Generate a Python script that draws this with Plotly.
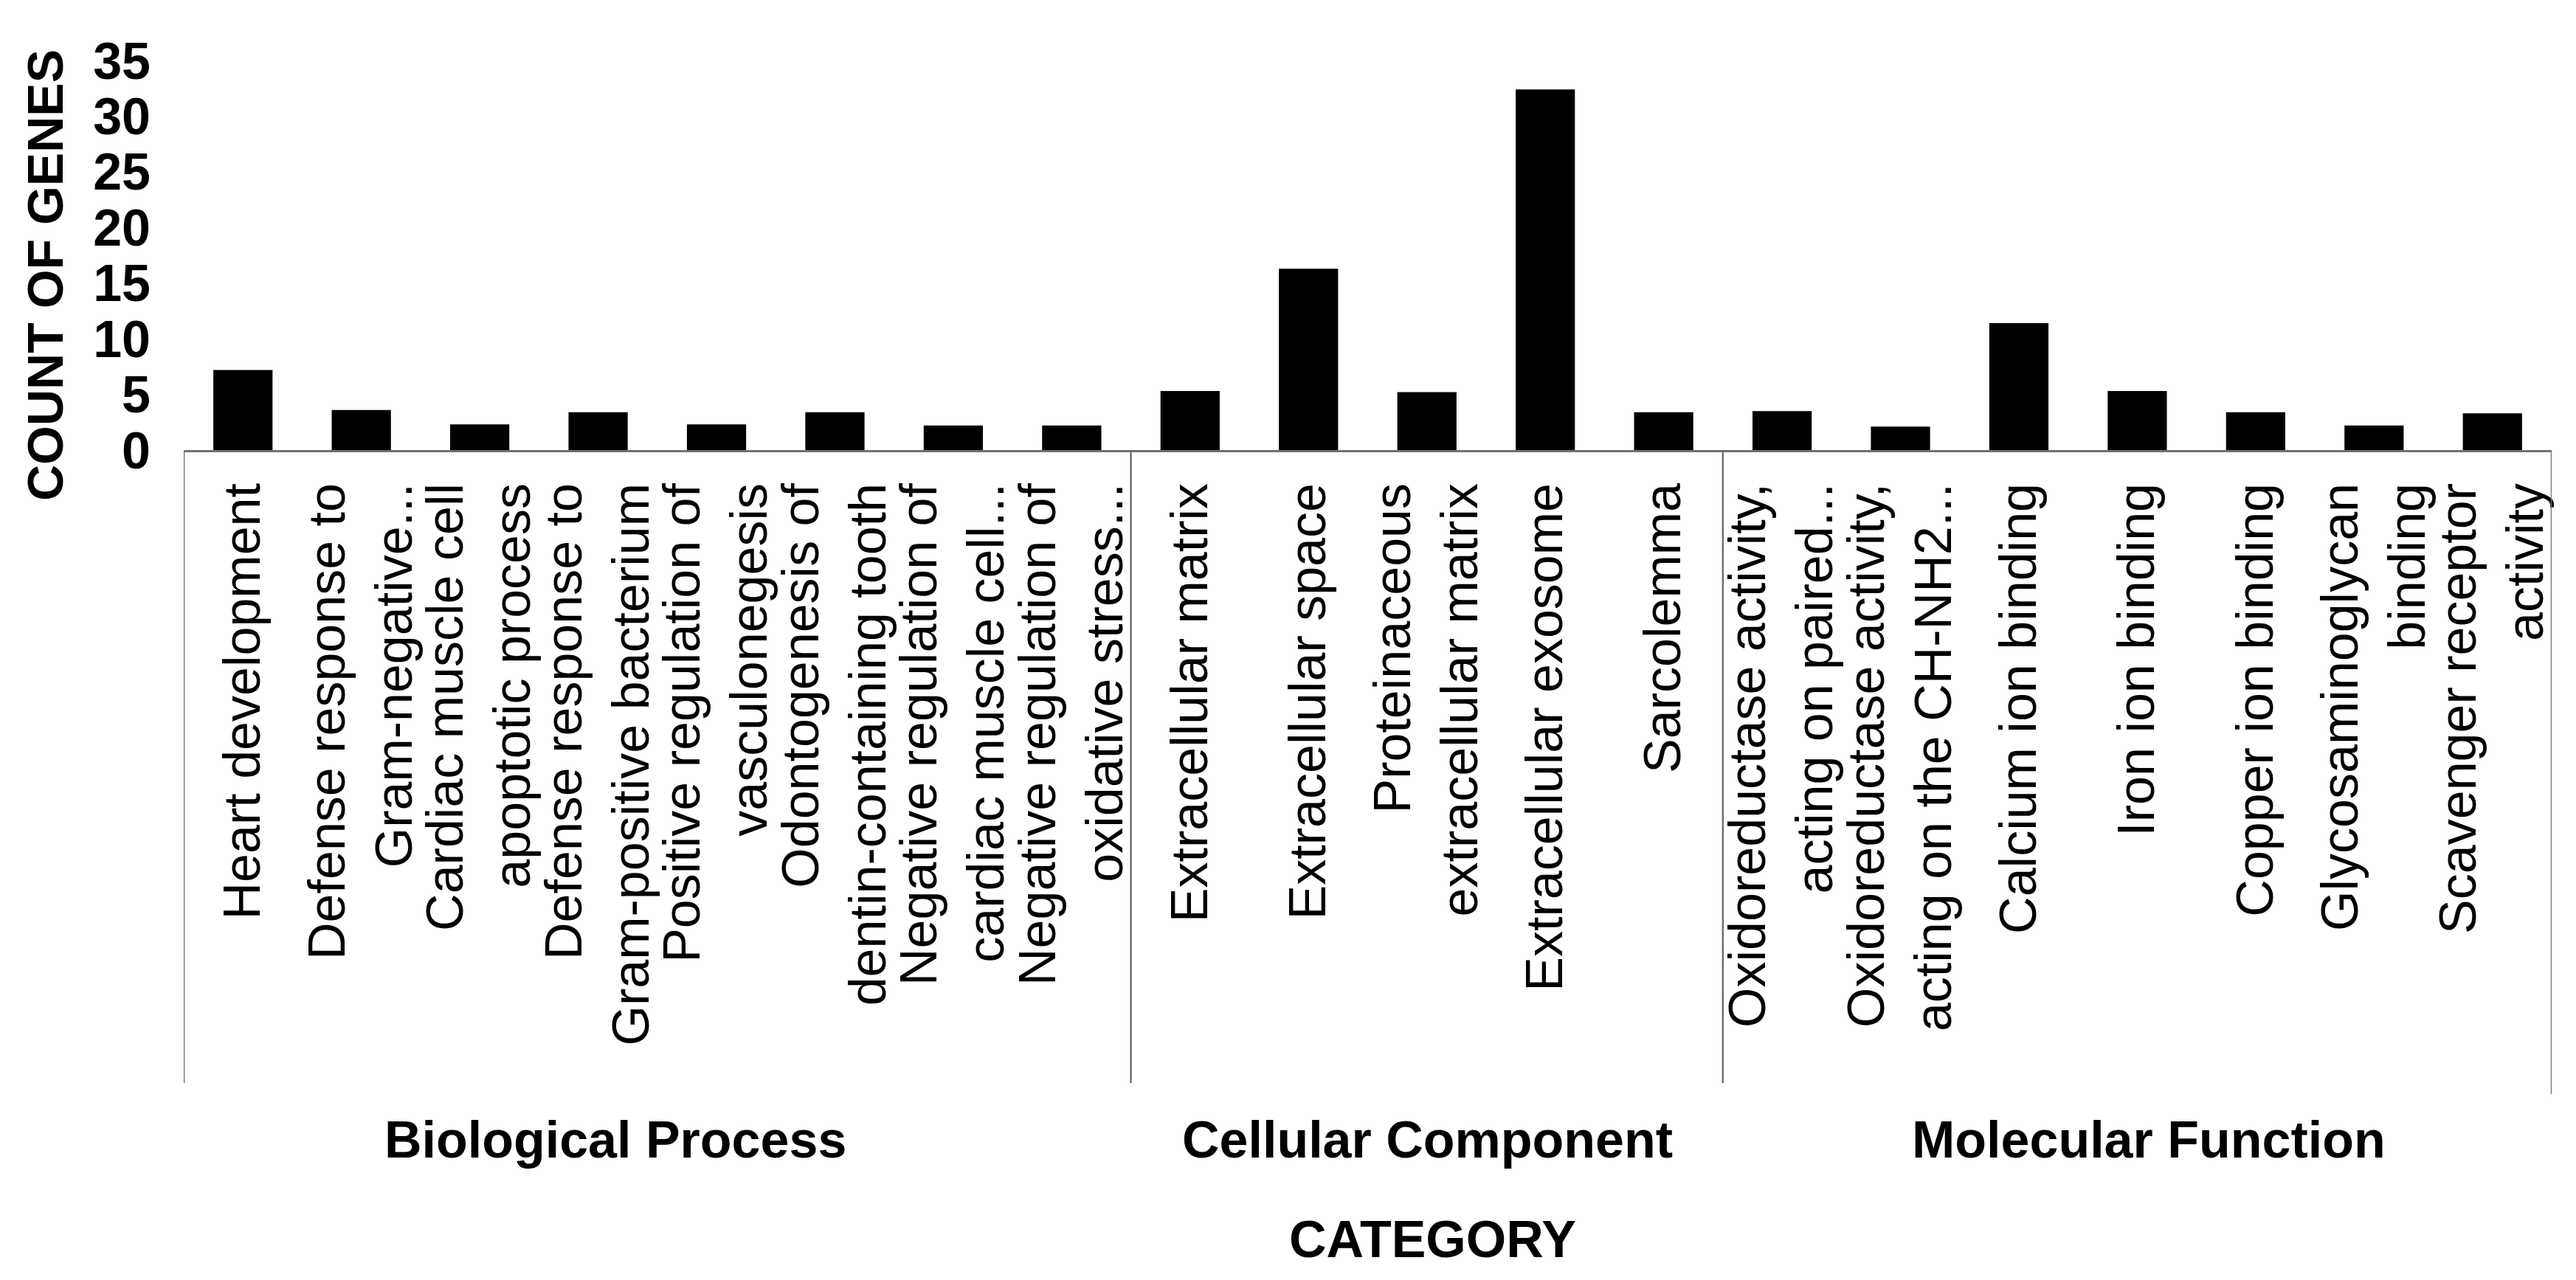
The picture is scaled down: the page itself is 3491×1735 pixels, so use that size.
import plotly.graph_objects as go

# ---- data ----
bp_terms = [
    "Heart development",
    "Defense response to<br>Gram-negative...",
    "Cardiac muscle cell<br>apoptotic process",
    "Defense response to<br>Gram-positive bacterium",
    "Positive regulation of<br>vasculonegesis",
    "Odontogenesis of<br>dentin-containing tooth",
    "Negative regulation of<br>cardiac muscle cell...",
    "Negative regulation of<br>oxidative stress...",
]
bp_counts = [7.2, 3.6, 2.3, 3.4, 2.3, 3.4, 2.2, 2.2]

cc_terms = [
    "Extracellular matrix",
    "Extracellular space",
    "Proteinaceous<br>extracellular matrix",
    "Extracellular exosome",
    "Sarcolemma",
]
cc_counts = [5.3, 16.3, 5.2, 32.4, 3.4]

mf_terms = [
    "Oxidoreductase activity,<br>acting on paired...",
    "Oxidoreductase activity,<br>acting on the CH-NH2...",
    "Calcium ion binding",
    "Iron ion binding",
    "Copper ion binding",
    "Glycosaminoglycan<br>binding",
    "Scavenger receptor<br>activity",
]
mf_counts = [3.5, 2.1, 11.4, 5.3, 3.4, 2.2, 3.3]

group_names = ["Biological Process", "Cellular Component", "Molecular Function"]
y_ticks = [0, 5, 10, 15, 20, 25, 30, 35]

# ---- figure ----
W, H = 3491, 1735
ML, MR, MT, MB = 241, 41, 59, 1133
PW, PH = W - ML - MR, H - MT - MB
FONT = "Liberation Sans, Arial, sans-serif"

def px_x(px):
    return (px - ML) / PW

def px_y(py):
    return (H - MB - py) / PH

terms = bp_terms + cc_terms + mf_terms
counts = bp_counts + cc_counts + mf_counts

fig = go.Figure(go.Bar(x=terms, y=counts, marker=dict(color="black", line=dict(width=0))))

# group separators (at category boundaries)
bounds = [-0.5, len(bp_terms) - 0.5, len(bp_terms) + len(cc_terms) - 0.5, len(terms) - 0.5]
shapes = []
for i, b in enumerate(bounds):
    shapes.append(dict(type="line", xref="x", yref="paper", x0=b, x1=b,
                       y0=0, y1=px_y(1475 if i == len(bounds) - 1 else 1460),
                       line=dict(color="#707070", width=2.5)))

annotations = []
for name, xp in zip(group_names, [826, 1926, 2904]):
    annotations.append(dict(text="<b>%s</b>" % name, xref="paper", yref="paper",
                            x=px_x(xp), y=px_y(1537), showarrow=False,
                            xanchor="center", yanchor="middle",
                            font=dict(family=FONT, size=70, color="black")))
annotations.append(dict(text="<b>CATEGORY</b>", xref="paper", yref="paper",
                        x=px_x(1934), y=px_y(1672), showarrow=False,
                        xanchor="center", yanchor="middle",
                        font=dict(family=FONT, size=70, color="black")))
annotations.append(dict(text="<b>COUNT OF GENES</b>", xref="paper", yref="paper",
                        x=px_x(53), y=px_y(365), showarrow=False, textangle=-90,
                        xanchor="center", yanchor="middle",
                        font=dict(family=FONT, size=68, color="black")))

fig.update_layout(
    width=W, height=H,
    margin=dict(l=ML, r=MR, t=MT, b=MB, autoexpand=False),
    paper_bgcolor="white", plot_bgcolor="white",
    bargap=0.5, showlegend=False,
    shapes=shapes, annotations=annotations,
    font=dict(family=FONT, color="black"),
)
fig.update_xaxes(
    type="category", tickangle=-90, showgrid=False, zeroline=False,
    showline=True, linecolor="#707070", linewidth=3,
    ticks="", ticklabelstandoff=14,
    tickfont=dict(family=FONT, size=70, color="black"),
    range=[-0.5, len(terms) - 0.5],
)
fig.update_yaxes(
    range=[0, 36], tickvals=y_ticks, ticktext=["<b>%d</b>" % v for v in y_ticks],
    showgrid=False, zeroline=False, showline=False, ticks="",
    ticklabelstandoff=44,
    tickfont=dict(family=FONT, size=70, color="black"),
)

fig.write_html("out.html")
